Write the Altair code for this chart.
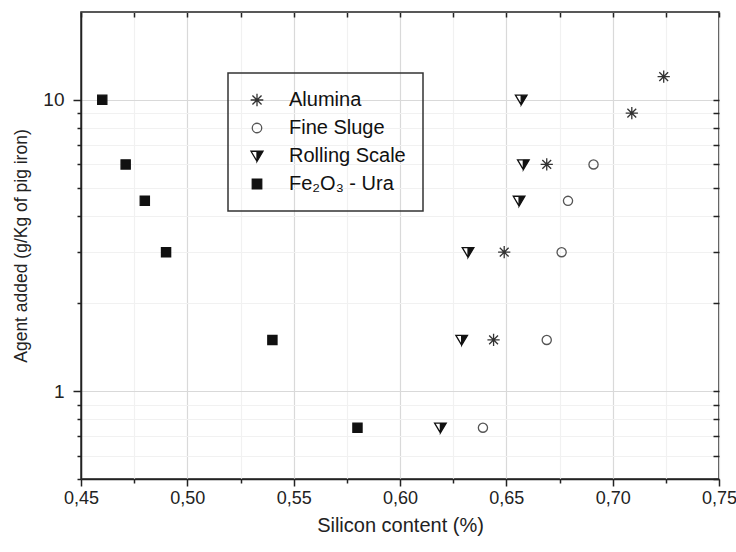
import altair as alt
import pandas as pd

series_names = ["Alumina", "Fine Sluge", "Rolling Scale", "Fe₂O₃ - Ura"]

alumina_si = [0.724, 0.709, 0.669, 0.649, 0.644]
alumina_agent = [12, 9, 6, 3, 1.5]
sluge_si = [0.691, 0.679, 0.676, 0.669, 0.639]
sluge_agent = [6, 4.5, 3, 1.5, 0.75]
rolling_si = [0.657, 0.658, 0.656, 0.632, 0.629, 0.619]
rolling_agent = [10, 6, 4.5, 3, 1.5, 0.75]
fe_si = [0.460, 0.471, 0.480, 0.490, 0.540, 0.580]
fe_agent = [10, 6, 4.5, 3, 1.5, 0.75]

x_ticks = [0.45, 0.475, 0.50, 0.525, 0.55, 0.575, 0.60, 0.625, 0.65, 0.675, 0.70, 0.725, 0.75]
y_ticks = [0.5, 0.6, 0.7, 0.8, 0.9, 1, 2, 3, 4, 5, 6, 7, 8, 9, 10]

rows = []
for name, xs, ys in [
    (series_names[0], alumina_si, alumina_agent),
    (series_names[1], sluge_si, sluge_agent),
    (series_names[2], rolling_si, rolling_agent),
    (series_names[3], fe_si, fe_agent),
]:
    for xv, yv in zip(xs, ys):
        rows.append({"series": name, "si": xv, "agent": yv})
df = pd.DataFrame(rows)

ASTERISK = "M-1,0L1,0M0,-1L0,1M-0.72,-0.72L0.72,0.72M-0.72,0.72L0.72,-0.72"
CIRCLE = "M0.75,0A0.75,0.75 0 1,1 -0.75,0A0.75,0.75 0 1,1 0.75,0Z"
HALF_TRI = "M0,-0.75L-0.95,-0.75L0,0.85L-0.95,-0.75ZM0,-0.75L0.95,-0.75L0,0.85Z"
SQUARE = "M-0.75,-0.75L0.75,-0.75L0.75,0.75L-0.75,0.75Z"
shapes = [ASTERISK, CIRCLE, HALF_TRI, SQUARE]
fills = ["#333333", "transparent", "#111111", "#111111"]
strokes = ["#333333", "#555555", "#111111", "#111111"]

FONT = "Liberation Sans"
x_major = "abs(datum.value*20 - round(datum.value*20)) < 0.001"
y_major = "datum.value == 1 || datum.value == 10"

xscale = alt.Scale(domain=[0.45, 0.75], nice=False, zero=False)
yscale = alt.Scale(type="log", domain=[0.5, 20], nice=False)

legend = alt.Legend(
    title=None, orient="none", legendX=147, legendY=61,
    strokeColor="#333333", padding=17, symbolOffset=2, labelOffset=22,
    labelFontSize=20, labelFont=FONT, labelColor="#111111", rowPadding=8,
    symbolSize=160, symbolStrokeWidth=1.3,
    labelLimit=400,
)

points = alt.Chart(df).mark_point(filled=True, size=150, strokeWidth=1.3, opacity=1).encode(
    x=alt.X("si:Q", scale=xscale, title="Silicon content (%)",
            axis=alt.Axis(
                values=x_ticks, labelOverlap=False, labelFlush=False,
                labelExpr=f"{x_major} ? replace(format(datum.value, '.2f'), '.', ',') : ''",
                tickSize={"condition": {"test": x_major, "value": 7}, "value": 4},
                gridColor={"condition": {"test": x_major, "value": "#d9d9d9"}, "value": "#f1f1f1"},
                gridWidth=1.2,
                labelFont=FONT, labelFontSize=18, labelColor="#222222", labelPadding=3,
                titleFont=FONT, titleFontSize=20, titleFontWeight="normal", titleColor="#222222",
                titlePadding=8, domainColor="#222222", domainWidth=1.5,
                tickColor="#222222", tickWidth=1.5,
            )),
    y=alt.Y("agent:Q", scale=yscale, title="Agent added (g/Kg of pig iron)",
            axis=alt.Axis(
                values=y_ticks, labelOverlap=False, labelFlush=False,
                labelExpr="datum.value == 1 ? '1' : (datum.value == 10 ? '10' : '')",
                tickSize={"condition": {"test": y_major, "value": 8}, "value": 4},
                gridColor={"condition": {"test": y_major, "value": "#d9d9d9"}, "value": "#f1f1f1"},
                gridWidth=1.2,
                labelFont=FONT, labelFontSize=19, labelColor="#222222", labelPadding=9,
                titleFont=FONT, titleFontSize=17.5, titleFontWeight="normal", titleColor="#222222",
                titlePadding=12, domainColor="#222222", domainWidth=1.5,
                tickColor="#222222", tickWidth=1.5,
            )),
    shape=alt.Shape("series:N", scale=alt.Scale(domain=series_names, range=shapes), legend=legend),
    fill=alt.Fill("series:N", scale=alt.Scale(domain=series_names, range=fills), legend=legend),
    stroke=alt.Stroke("series:N", scale=alt.Scale(domain=series_names, range=strokes), legend=legend),
)

frame = alt.Chart(df).mark_point(opacity=0).encode(
    x=alt.X("si:Q", scale=xscale, title=None,
            axis=alt.Axis(orient="top", values=x_ticks, labels=False, domain=False, grid=False,
                          tickSize=5, offset=-5, tickColor="#222222", tickWidth=1.5)),
    y=alt.Y("agent:Q", scale=yscale, title=None,
            axis=alt.Axis(orient="right", values=y_ticks, labels=False, domain=False, grid=False,
                          tickSize=6, offset=-6, tickColor="#222222", tickWidth=1.5)),
)

chart = alt.layer(points, frame).resolve_axis(x="independent", y="independent").properties(
    width=638, height=467,
    autosize=alt.AutoSizeParams(type="none"),
    padding={"left": 81, "top": 12, "right": 17, "bottom": 73},
    background="white",
).configure_view(stroke="#222222", strokeWidth=1.5).configure_legend(strokeWidth=1.5)

chart.save("out.html", embed_options={"renderer": "svg", "actions": False})
